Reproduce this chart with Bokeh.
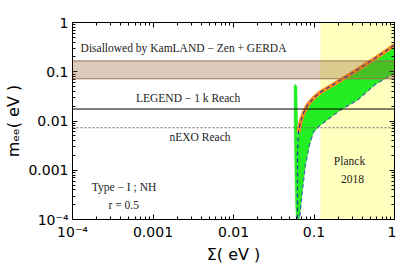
from bokeh.plotting import figure
from bokeh.models import (LogAxis, FixedTicker, CustomJSTickFormatter, BoxAnnotation,
                          Span, Label, Range1d)
from bokeh.embed import file_html
from bokeh.resources import INLINE

# ---- data ----
tick_vals = [1e-4, 1e-3, 1e-2, 1e-1, 1.0]
x_tick_labels = ["10⁻⁴", "0.001", "0.01", "0.1", "1"]
y_tick_labels = ["10⁻⁴", "0.001", "0.01", "0.1", "1"]

# upper (orange) boundary of the allowed region
sigma_upper = [0.0624, 0.0624, 0.0642, 0.0680, 0.0741, 0.0830, 0.0986, 0.1205, 0.185, 0.310, 0.504, 0.773, 1.0]
mee_upper = [1.05e-4, 0.0026, 0.0060, 0.00955, 0.0145, 0.0211, 0.0292, 0.0386, 0.0586, 0.0977, 0.163, 0.260, 0.350]
# lower boundary of the allowed region (from Sigma = 1 downward)
sigma_lower = [1.0, 0.580, 0.347, 0.213, 0.1205, 0.0986, 0.0879, 0.0783, 0.0719, 0.0680, 0.0661]
mee_lower = [0.0933, 0.0559, 0.0266, 0.0167, 0.0083, 0.0060, 0.00327, 0.00129, 4.0e-4, 1.6e-4, 1.05e-4]
# narrow vertical strip at the minimal Sigma
strip_sigma = [0.0604, 0.0588, 0.0573, 0.0566, 0.0566, 0.0580, 0.0612, 0.0624, 0.0624]
strip_mee = [1.05e-4, 2.5e-4, 0.0026, 0.01, 0.050, 0.0559, 0.050, 0.01, 1.05e-4]

kamland_low, kamland_high = 0.072, 0.166
legend_reach = 0.0175
nexo_reach = 0.0073
planck_sigma = 0.12

GREEN = "#22EE22"

p = figure(width=396, height=266, x_axis_type="log", y_axis_type="log",
           x_range=Range1d(1e-4, 1.0), y_range=Range1d(1e-4, 1.0),
           output_backend="svg", toolbar_location=None,
           min_border_left=72, min_border_right=2, min_border_top=22, min_border_bottom=46)
p.background_fill_color = "white"
p.border_fill_color = "white"
p.outline_line_color = "black"
p.xgrid.visible = False
p.ygrid.visible = False

minor = [m * 10.0 ** e for e in range(-4, 0) for m in range(2, 10)]

label_code = """
let best = -1, bd = 1e9;
for (let i = 0; i < vals.length; i++) {
  const d = Math.abs(Math.log10(tick) - Math.log10(vals[i]));
  if (d < bd) { bd = d; best = i; }
}
return bd < 1e-6 ? labels[best] : "";
"""

def style_axis(ax, labels=None):
    ax.ticker = FixedTicker(ticks=tick_vals, minor_ticks=minor)
    if labels is None:
        ax.formatter = CustomJSTickFormatter(code="return '';")
        ax.major_label_text_font_size = "1px"
        ax.major_label_standoff = 0
    else:
        ax.formatter = CustomJSTickFormatter(args=dict(vals=tick_vals, labels=labels), code=label_code)
        ax.major_label_text_font = "DejaVu Sans"
        ax.major_label_text_font_size = "14px"
        ax.major_label_text_color = "black"
        ax.major_label_standoff = 4
    ax.major_tick_in = 5
    ax.major_tick_out = 0
    ax.minor_tick_in = 3
    ax.minor_tick_out = 0
    ax.major_tick_line_color = "black"
    ax.minor_tick_line_color = "black"
    ax.axis_line_color = "black"

style_axis(p.xaxis[0], x_tick_labels)
style_axis(p.yaxis[0], y_tick_labels)
p.xaxis.axis_label = "Σ( eV )"
p.yaxis.axis_label = "mₑₑ( eV )"
for ax in (p.xaxis[0], p.yaxis[0]):
    ax.axis_label_text_font = "DejaVu Sans"
    ax.axis_label_text_font_size = "16px"
    ax.axis_label_text_font_style = "normal"
    ax.axis_label_text_color = "black"
    ax.axis_label_standoff = 2

right_ax = LogAxis()
top_ax = LogAxis()
style_axis(right_ax)
style_axis(top_ax)
p.add_layout(right_ax, "right")
p.add_layout(top_ax, "above")

# Planck region
p.add_layout(BoxAnnotation(left=planck_sigma, fill_color="#FFFFBE", fill_alpha=1.0,
                           line_alpha=0, level="underlay"))

# allowed region
p.patch(strip_sigma, strip_mee, fill_color=GREEN, line_color=GREEN, line_width=0.5)
band_x = sigma_upper + sigma_lower
band_y = mee_upper + mee_lower
p.patch(band_x, band_y, fill_color=GREEN, line_color=GREEN, line_width=0.5)

# boundary lines
p.line(sigma_upper[2:], mee_upper[2:], line_color="#FF8C1A", line_width=4)
p.line(sigma_upper, mee_upper, line_color="#3030A0", line_width=1.2, line_dash="4 3")
p.line(sigma_lower, mee_lower, line_color="#4466AA", line_width=1.2, line_dash="4 3")

# KamLAND-Zen + GERDA band
p.add_layout(BoxAnnotation(bottom=kamland_low, top=kamland_high, fill_color="#96602D",
                           fill_alpha=0.33, line_alpha=0))
p.add_layout(Span(location=kamland_low, dimension="width", line_color="#9A7050", line_width=1))
p.add_layout(Span(location=kamland_high, dimension="width", line_color="#9A7050", line_width=1))

# experimental reaches
p.add_layout(Span(location=legend_reach, dimension="width", line_color="black", line_width=1))
p.add_layout(Span(location=nexo_reach, dimension="width", line_color="#666666",
                  line_width=1.2, line_dash="2 2"))

def txt(x, y, s):
    p.add_layout(Label(x=x, y=y, text=s, text_font="Liberation Serif", text_font_size="11.5px",
                       text_align="center", text_baseline="middle", text_color="#222222"))

txt(0.0026, 0.298, "Disallowed  by  KamLAND − Zen + GERDA")
txt(0.00284, 0.0292, "LEGEND − 1 k  Reach")
txt(0.0040, 0.00475, "nEXO  Reach")
txt(4.55e-4, 4.64e-4, "Type − I ;  NH")
txt(4.7e-4, 2.0e-4, "r  =  0.5")
txt(0.276, 0.00156, "Planck")
txt(0.30, 6.7e-4, "2018")

open("out.html", "w").write(file_html(p, INLINE))
